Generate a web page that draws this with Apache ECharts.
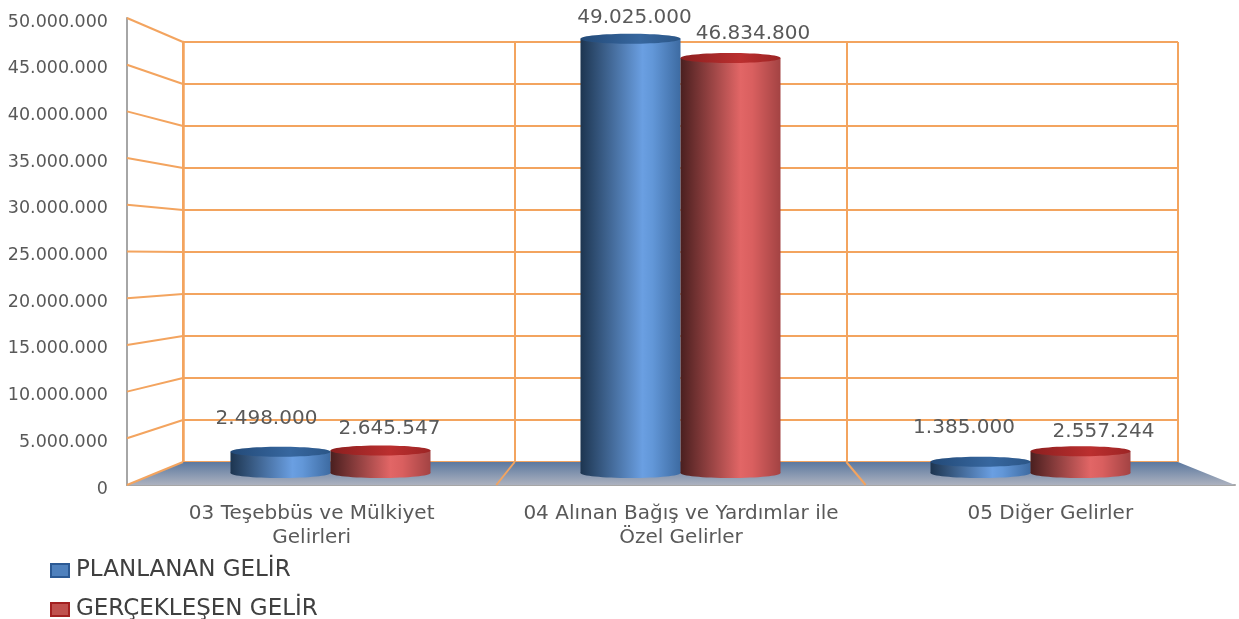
<!DOCTYPE html>
<html>
<head>
<meta charset="utf-8">
<style>
  html, body { margin: 0; padding: 0; background: #fff; }
  #main { width: 1239px; height: 619px; filter: blur(0.5px); }
</style>
<script src="https://cdn.jsdelivr.net/npm/echarts@6/dist/echarts.min.js"></script>
</head>
<body>
<div id="main"></div>
<script>
  const categories = ['03 Teşebbüs ve Mülkiyet\nGelirleri', '04 Alınan Bağış ve Yardımlar ile\nÖzel Gelirler', '05 Diğer Gelirler']
  const planlanan = [2498000, 49025000, 1385000]
  const gerceklesen = [2645547, 46834800, 2557244]
  const yTicks = [0, 5000000, 10000000, 15000000, 20000000, 25000000, 30000000, 35000000, 40000000, 45000000, 50000000]

  // three depth planes of the fake 3d box: front edge, bar plane, back wall
  const front = { left: 127, top: 18, width: 1108, height: 467 }
  const middle = { left: 155.5, top: 30, width: 1050, height: 444 }
  const back = { left: 183, top: 42, width: 995, height: 420 }

  const ORANGE = '#f3a45f'
  const TEXT = '#595959'
  const FONT = '"DejaVu Sans", sans-serif'

  // label nudges relative to the top of each bar [dx, dy]
  const planlananOffsets = [[-14, -33], [4, -21], [-16.5, -34]]
  const gerceklesenOffsets = [[9, -22], [22.5, -24.5], [23, -19.5]]

  const dotted = v => String(v).replace(/\B(?=(\d{3})+(?!\d))/g, '.')

  const chart = echarts.init(document.getElementById('main'))

  const cylinder = (stops, topStops, side, offsets) => (params, api) => {
    const w = api.size([1, 0])[0] * 100 / 350
    const c = api.coord([api.value(0), api.value(1)])
    const base = api.coord([api.value(0), 0])
    const x = c[0] + side * w / 2
    const ry = 5
    const shade = new echarts.graphic.LinearGradient(0, 0, 1, 0, stops)
    const cap = new echarts.graphic.LinearGradient(0, 0, 1, 0, topStops)
    const off = offsets[params.dataIndex]
    return {
      type: 'group',
      children: [
        { type: 'ellipse', shape: { cx: x, cy: base[1] - 1, rx: w / 2, ry }, style: { fill: shade } },
        { type: 'rect', shape: { x: x - w / 2, y: c[1], width: w, height: base[1] - 1 - c[1] }, style: { fill: shade } },
        { type: 'ellipse', shape: { cx: x, cy: c[1], rx: w / 2, ry }, style: { fill: cap } },
        {
          type: 'text',
          z2: 10,
          x: x + off[0],
          y: c[1] + off[1],
          style: {
            text: dotted(api.value(1)),
            fill: TEXT,
            font: '20px ' + FONT,
            align: 'center',
            verticalAlign: 'middle'
          }
        }
      ]
    }
  }

  // one legend per row, the stacked pair does not fit a single box this low on the page
  const legendRow = (name, top) => ({
    left: 50,
    top,
    padding: 0,
    itemWidth: 18,
    itemHeight: 13,
    icon: 'rect',
    data: [name],
    textStyle: { color: '#404040', fontSize: 23, fontFamily: FONT, padding: [0, 0, 0, 2] }
  })

  const option = {
    animation: false,
    backgroundColor: '#fff',
    legend: [
      legendRow('PLANLANAN GELİR', 559),
      legendRow('GERÇEKLEŞEN GELİR', 598)
    ],
    grid: [
      { ...front },
      { ...back },
      { ...middle }
    ],
    xAxis: [
      {
        gridIndex: 0,
        type: 'category',
        data: categories,
        axisLine: { show: true, lineStyle: { color: '#a6a6a6', width: 2 } },
        axisTick: { show: false },
        axisLabel: { interval: 0, color: TEXT, fontSize: 20, fontFamily: FONT, lineHeight: 24, margin: 17 }
      },
      {
        gridIndex: 1,
        type: 'category',
        data: categories,
        axisLine: { show: false },
        axisTick: { show: false },
        axisLabel: { show: false },
        splitLine: { show: true, interval: 0, lineStyle: { color: ORANGE, width: 2 } }
      },
      {
        gridIndex: 2,
        type: 'category',
        data: categories,
        show: false
      }
    ],
    yAxis: [
      {
        gridIndex: 0,
        type: 'value',
        min: 0,
        max: 50000000,
        interval: 5000000,
        splitLine: { show: false },
        axisTick: { show: false },
        axisLine: { show: true, lineStyle: { color: '#a6a6a6', width: 2 } },
        axisLabel: { color: TEXT, fontSize: 17.5, fontFamily: FONT, margin: 19, verticalAlign: 'top', lineHeight: 8, formatter: dotted }
      },
      {
        gridIndex: 1,
        type: 'value',
        min: 0,
        max: 50000000,
        interval: 5000000,
        axisTick: { show: false },
        axisLabel: { show: false },
        axisLine: { show: true, lineStyle: { color: ORANGE, width: 2.5 } },
        splitLine: { show: true, lineStyle: { color: ORANGE, width: 2 } }
      },
      {
        gridIndex: 2,
        type: 'value',
        min: 0,
        max: 50000000,
        show: false,
        splitLine: { show: false }
      }
    ],
    series: [
      {
        // floor
        type: 'custom',
        xAxisIndex: 0,
        yAxisIndex: 0,
        z: 1,
        silent: true,
        data: [[0, 0]],
        renderItem: (params, api) => {
          const backY = chart.convertToPixel({ yAxisIndex: 1 }, 0)
          const frontY = api.coord([0, 0])[1]
          const n = categories.length
          const children = [{
            type: 'polygon',
            shape: {
              points: [
                [back.left, backY],
                [back.left + back.width, backY],
                [front.left + front.width, frontY],
                [front.left, frontY]
              ]
            },
            style: { fill: new echarts.graphic.LinearGradient(0, 0, 0, 1, [
              { offset: 0, color: '#5c789f' },
              { offset: 1, color: '#acb2bf' }
            ]) }
          }]
          for (let i = 1; i < n; i++) {
            children.push({
              type: 'line',
              shape: {
                x1: back.left + back.width * i / n,
                y1: backY,
                x2: front.left + front.width * i / n,
                y2: frontY
              },
              style: { stroke: ORANGE, lineWidth: 2 }
            })
          }
          return { type: 'group', children }
        }
      },
      {
        // side wall lines, front axis to back wall
        type: 'custom',
        xAxisIndex: 0,
        yAxisIndex: 0,
        z: 2,
        silent: true,
        data: yTicks.map(v => [0, v]),
        renderItem: (params, api) => ({
          type: 'line',
          shape: {
            x1: front.left,
            y1: api.coord([0, api.value(1)])[1],
            x2: back.left,
            y2: chart.convertToPixel({ yAxisIndex: 1 }, api.value(1))
          },
          style: { stroke: ORANGE, lineWidth: 2 }
        })
      },
      {
        name: 'PLANLANAN GELİR',
        type: 'custom',
        xAxisIndex: 2,
        yAxisIndex: 2,
        z: 5,
        itemStyle: { color: '#4f81bd', borderColor: '#2c5a94', borderWidth: 1 },
        data: planlanan.map((v, i) => [i, v]),
        renderItem: cylinder([
          { offset: 0, color: '#1d3550' },
          { offset: 0.62, color: '#6a9fe2' },
          { offset: 0.72, color: '#6297d8' },
          { offset: 1, color: '#3d6ba2' }
        ], [
          { offset: 0, color: '#234a78' },
          { offset: 0.6, color: '#37679f' },
          { offset: 1, color: '#2b5687' }
        ], -1, planlananOffsets)
      },
      {
        name: 'GERÇEKLEŞEN GELİR',
        type: 'custom',
        xAxisIndex: 2,
        yAxisIndex: 2,
        z: 5,
        itemStyle: { color: '#c0504d', borderColor: '#a32020', borderWidth: 1 },
        data: gerceklesen.map((v, i) => [i, v]),
        renderItem: cylinder([
          { offset: 0, color: '#4a1f1f' },
          { offset: 0.6, color: '#e26666' },
          { offset: 0.72, color: '#d95f5f' },
          { offset: 1, color: '#a34343' }
        ], [
          { offset: 0, color: '#8c1f1f' },
          { offset: 0.6, color: '#bb2f2f' },
          { offset: 1, color: '#9c2424' }
        ], 1, gerceklesenOffsets)
      }
    ]
  }

  chart.setOption(option)

  window.addEventListener('resize', () => {
    chart.resize()
  })
</script>
</body>
</html>
